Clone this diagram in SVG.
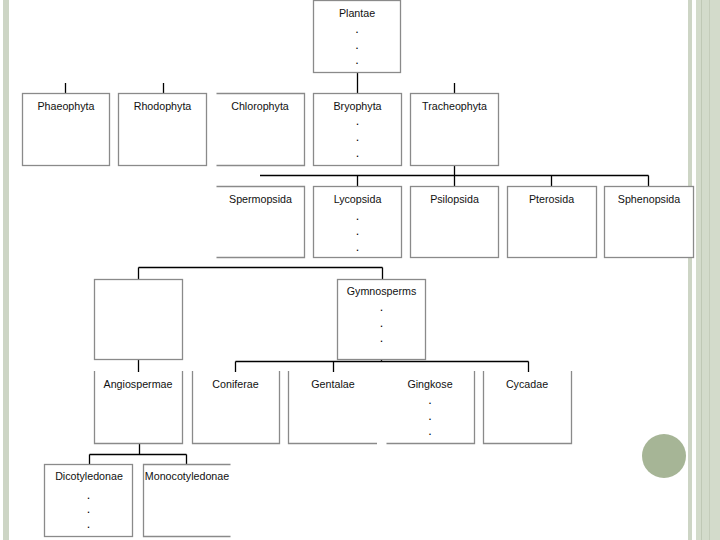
<svg xmlns="http://www.w3.org/2000/svg" width="720" height="540" viewBox="0 0 720 540">
<style>
.box{fill:#fff;stroke:#8a8a8a;stroke-width:1.3}
.open{fill:none;stroke:#8a8a8a;stroke-width:1.3}
.con{fill:none;stroke:#000;stroke-width:1.3}
text{font-family:"Liberation Sans",Arial,sans-serif;font-size:10.7px;fill:#111;text-anchor:middle}
.dot{font-size:12.5px;fill:#000}
</style>
<rect x="0" y="0" width="720" height="540" fill="#fff"/>
<g id="decor">
<rect x="3" y="0" width="6" height="540" fill="#cdd5c5"/>
<rect x="688" y="0" width="4" height="540" fill="#cdd5c5"/>
<rect x="696" y="0" width="24" height="540" fill="#d3dbcb"/>
<rect x="701" y="0" width="1" height="540" fill="#bfc8b5"/>
<rect x="709" y="0" width="1" height="540" fill="#c4ccba"/>
<circle cx="664" cy="456" r="22" fill="#a6b596"/>
</g>
<g id="connectors">
<path class="con" d="M357.5,72.5V93.5M65.5,83V93.5M163.5,83V93.5M454.5,83V93.5M454.5,165.5V186.5M260,175.5H648.5M357.5,175.5V186.5M551.5,175.5V186.5M648.5,175.5V186.5M138.5,267.5H382.5M138.5,267.5V279.5M382.5,267.5V279.5M138.5,359.5V372M381.5,359.5V361.5M235.5,361.5H528.5M235.5,361.5V372M333.5,361.5V372M528.5,361.5V372M139.5,443.5V454.5M89.5,454.5H186.5M89.5,454.5V464.5M186.5,454.5V464.5"/>
</g>
<g id="plantae"><rect class="box" x="313.5" y="0.5" width="87" height="72"/><text x="357" y="17">Plantae</text><text class="dot" x="357" y="33">.</text><text class="dot" x="357" y="49">.</text><text class="dot" x="357" y="64">.</text></g>
<g id="phaeophyta"><rect class="box" x="22.5" y="93.5" width="87" height="72"/><text x="66" y="110">Phaeophyta</text></g>
<g id="rhodophyta"><rect class="box" x="118.5" y="93.5" width="88" height="72"/><text x="162.5" y="110">Rhodophyta</text></g>
<g id="chlorophyta"><path class="open" d="M216.5,93.5H304.5V165.5H216.5"/><text x="260" y="110">Chlorophyta</text></g>
<g id="bryophyta"><rect class="box" x="313.5" y="93.5" width="88" height="72"/><text x="357.5" y="110">Bryophyta</text><text class="dot" x="357.5" y="125">.</text><text class="dot" x="357.5" y="141">.</text><text class="dot" x="357.5" y="157">.</text></g>
<g id="tracheophyta"><rect class="box" x="410.5" y="93.5" width="88" height="72"/><text x="454.5" y="110">Tracheophyta</text></g>
<g id="spermopsida"><path class="open" d="M216.5,186.5H304.5V257.5H216.5"/><text x="260.5" y="203">Spermopsida</text></g>
<g id="lycopsida"><rect class="box" x="313.5" y="186.5" width="88" height="71"/><text x="357.5" y="203">Lycopsida</text><text class="dot" x="357.5" y="220">.</text><text class="dot" x="357.5" y="235">.</text><text class="dot" x="357.5" y="251">.</text></g>
<g id="psilopsida"><rect class="box" x="410.5" y="186.5" width="88" height="71"/><text x="454.5" y="203">Psilopsida</text></g>
<g id="pterosida"><rect class="box" x="507.5" y="186.5" width="89" height="71"/><text x="551.5" y="203">Pterosida</text></g>
<g id="sphenopsida"><rect class="box" x="604.5" y="186.5" width="89" height="71"/><text x="649" y="203">Sphenopsida</text></g>
<g id="blank"><rect class="box" x="94.5" y="279.5" width="88" height="80"/></g>
<g id="gymnosperms"><rect class="box" x="337.5" y="279.5" width="88" height="80"/><text x="381.5" y="295">Gymnosperms</text><text class="dot" x="381.5" y="311">.</text><text class="dot" x="381.5" y="327">.</text><text class="dot" x="381.5" y="342">.</text></g>
<g id="angiospermae"><path class="open" d="M94.5,371V443.5H182.5V371"/><text x="138" y="388">Angiospermae</text></g>
<g id="coniferae"><path class="open" d="M192.5,371V443.5H279.5V371"/><text x="235.5" y="388">Coniferae</text></g>
<g id="gentalae"><path class="open" d="M288.5,371V443.5H377"/><text x="333" y="388">Gentalae</text></g>
<g id="gingkose"><path class="open" d="M386.5,443.5H474.5V371"/><text x="430" y="388">Gingkose</text><text class="dot" x="430" y="404">.</text><text class="dot" x="430" y="420">.</text><text class="dot" x="430" y="435">.</text></g>
<g id="cycadae"><path class="open" d="M483.5,371V443.5H571.5V371"/><text x="527" y="388">Cycadae</text></g>
<g id="dicotyledonae"><rect class="box" x="44.5" y="464.5" width="88" height="72"/><text x="89" y="480">Dicotyledonae</text><text class="dot" x="88.5" y="499">.</text><text class="dot" x="88.5" y="513">.</text><text class="dot" x="88.5" y="528">.</text></g>
<g id="monocotyledonae"><path class="open" d="M230.5,464.5H143.5V536.5H230.5"/><text x="187" y="480">Monocotyledonae</text></g>
</svg>
